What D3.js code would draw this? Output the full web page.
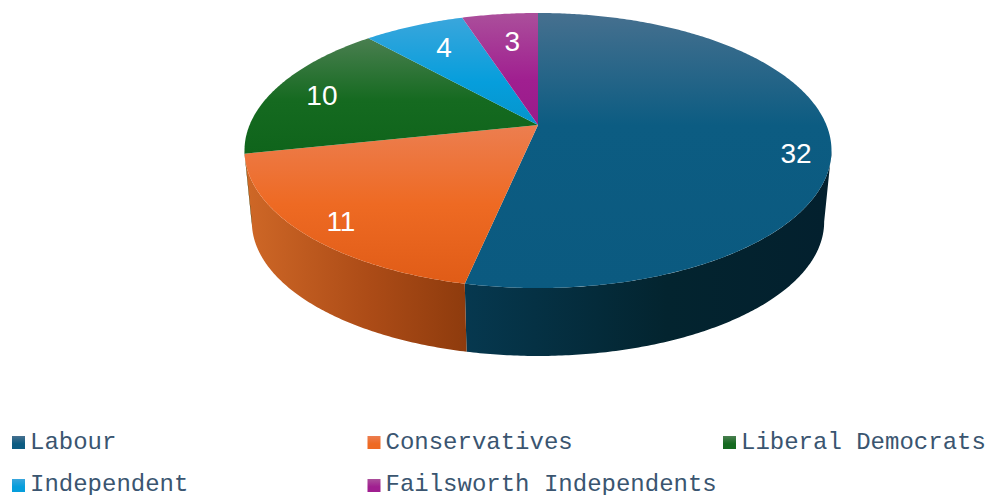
<!DOCTYPE html>
<html>
<head>
<meta charset="utf-8">
<script src="https://cdn.jsdelivr.net/npm/d3@7"></script>
<style>
html, body { margin: 0; padding: 0; background: #fff; }
svg { display: block; }
</style>
</head>
<body>
<svg id="chart" width="987" height="495"></svg>
<script>
// Council seats by party
const parties = ["Labour", "Conservatives", "Liberal Democrats", "Independent", "Failsworth Independents"];
const seats = [32, 11, 10, 4, 3];

// Face colours: highlight at the top of a slice, body, and foot
const lightColors = ["#46708f", "#ec7e50", "#4a7f50", "#3aa6dc", "#ab4f9b"];
const bodyColors = ["#0c5c82", "#ee6a23", "#156a20", "#069edc", "#a01f90"];
const footColors = ["#0b5a80", "#e05c17", "#0f641b", "#0595cc", "#991b8a"];
const bodyStops = [0.41, 0.5, 0.54, 0.6, 0.6];

// Rim colours across each slice's wall, left to right
const rimStart = ["#06384f", "#cf6827", "#0c4a14", "#046f9a", "#701565"];
const rimMiddle = ["#03242f", "#ad4c17", "#0b4212", "#03648b", "#65125a"];
const rimEnd = ["#03202e", "#8e3b0d", "#0a3a10", "#035a7d", "#5a1050"];

// Where each value label sits on the disc
const labelRadius = [0.885, 0.877, 0.817, 0.754, 0.724];
const labelTurn = [7.3, -1.6, -1.2, 1, 1];

const svg = d3.select("#chart");
const defs = svg.append("defs");

// Perspective view of a unit disc lying on a table
const tilt = 0.1855;
const xReach = 288.4;
const yReach = 132.8;
const centre = [538, 125];
const thickness = 72;
const floorScale = 0.975;

// Angles at which the disc's outline is widest; only the arc between them faces the viewer
const rightSilhouette = Math.acos(-tilt);
const leftSilhouette = 2 * Math.PI - rightSilhouette;

function project(angle, radius, level) {
  const x = radius * Math.sin(angle);
  const y = radius * Math.cos(angle);
  const w = 1 + tilt * y;
  const s = level ? floorScale : 1;
  return [
    centre[0] + s * xReach * x / w,
    centre[1] + (level ? thickness : 0) - s * yReach * y / w
  ];
}

const arcs = d3.pie().sort(null).value(d => d)(seats);
const outline = d3.line();

function arcPoints(a0, a1, level) {
  const n = Math.max(2, Math.ceil((a1 - a0) / 0.01));
  return d3.range(n + 1).map(i => project(a0 + (a1 - a0) * i / n, 1, level));
}

arcs.forEach((a, i) => {
  const face = defs.append("linearGradient")
    .attr("id", `face${i}`).attr("x1", 0).attr("y1", 0).attr("x2", 0).attr("y2", 1);
  face.append("stop").attr("offset", 0).attr("stop-color", lightColors[i]);
  face.append("stop").attr("offset", bodyStops[i]).attr("stop-color", bodyColors[i]);
  face.append("stop").attr("offset", 1).attr("stop-color", footColors[i]);

  const rim = defs.append("linearGradient")
    .attr("id", `rim${i}`).attr("x1", 0).attr("y1", 0).attr("x2", 1).attr("y2", 0);
  rim.append("stop").attr("offset", 0).attr("stop-color", rimStart[i]);
  rim.append("stop").attr("offset", 0.55).attr("stop-color", rimMiddle[i]);
  rim.append("stop").attr("offset", 1).attr("stop-color", rimEnd[i]);

  const key = defs.append("linearGradient")
    .attr("id", `key${i}`).attr("x1", 0).attr("y1", 0).attr("x2", 0).attr("y2", 1);
  key.append("stop").attr("offset", 0).attr("stop-color", lightColors[i]);
  key.append("stop").attr("offset", 0.6).attr("stop-color", bodyColors[i]);
});

// Walls first: only the viewer-facing part of each slice's edge
const walls = arcs
  .map((a, i) => ({
    i,
    from: Math.max(a.startAngle, rightSilhouette),
    to: Math.min(a.endAngle, leftSilhouette)
  }))
  .filter(w => w.to > w.from);

svg.append("g").selectAll("path")
  .data(walls)
  .join("path")
  .attr("d", w => outline(
    arcPoints(w.from, w.to, false).concat(arcPoints(w.from, w.to, true).reverse())
  ) + "Z")
  .attr("fill", w => `url(#rim${w.i})`);

// Top of the disc
svg.append("g").selectAll("path")
  .data(arcs)
  .join("path")
  .attr("d", a => outline([centre].concat(arcPoints(a.startAngle, a.endAngle, false))) + "Z")
  .attr("fill", (a, i) => `url(#face${i})`);

// Value labels
const labelAt = (a, i) => project(
  (a.startAngle + a.endAngle) / 2 + labelTurn[i] * Math.PI / 180,
  labelRadius[i],
  false
);

svg.append("g").selectAll("text")
  .data(arcs)
  .join("text")
  .attr("x", (a, i) => labelAt(a, i)[0])
  .attr("y", (a, i) => labelAt(a, i)[1])
  .attr("dy", "0.35em")
  .attr("text-anchor", "middle")
  .attr("font-family", "'Liberation Sans', Arial, sans-serif")
  .attr("font-size", 28)
  .attr("fill", "#fff")
  .text(a => a.value);

// Legend, three entries to a row
const legendX = d3.scaleLinear().domain([0, 2]).range([12, 723]);
const legendY = d3.scaleLinear().domain([0, 1]).range([436, 479]);
const legendBaseline = d3.scaleLinear().domain([0, 1]).range([448.5, 490.5]);
const entries = svg.append("g").selectAll("g")
  .data(parties)
  .join("g");

entries.append("rect")
  .attr("x", (d, i) => legendX(i % 3))
  .attr("y", (d, i) => legendY(Math.floor(i / 3)))
  .attr("width", 13).attr("height", 13)
  .attr("fill", (d, i) => `url(#key${i})`);

entries.append("text")
  .attr("x", (d, i) => legendX(i % 3) + 18)
  .attr("y", (d, i) => legendBaseline(Math.floor(i / 3)))
  .attr("font-family", "'Liberation Mono', 'Courier New', monospace")
  .attr("font-size", 24)
  .attr("fill", "#3a5570")
  .text(d => d);
</script>
</body>
</html>
